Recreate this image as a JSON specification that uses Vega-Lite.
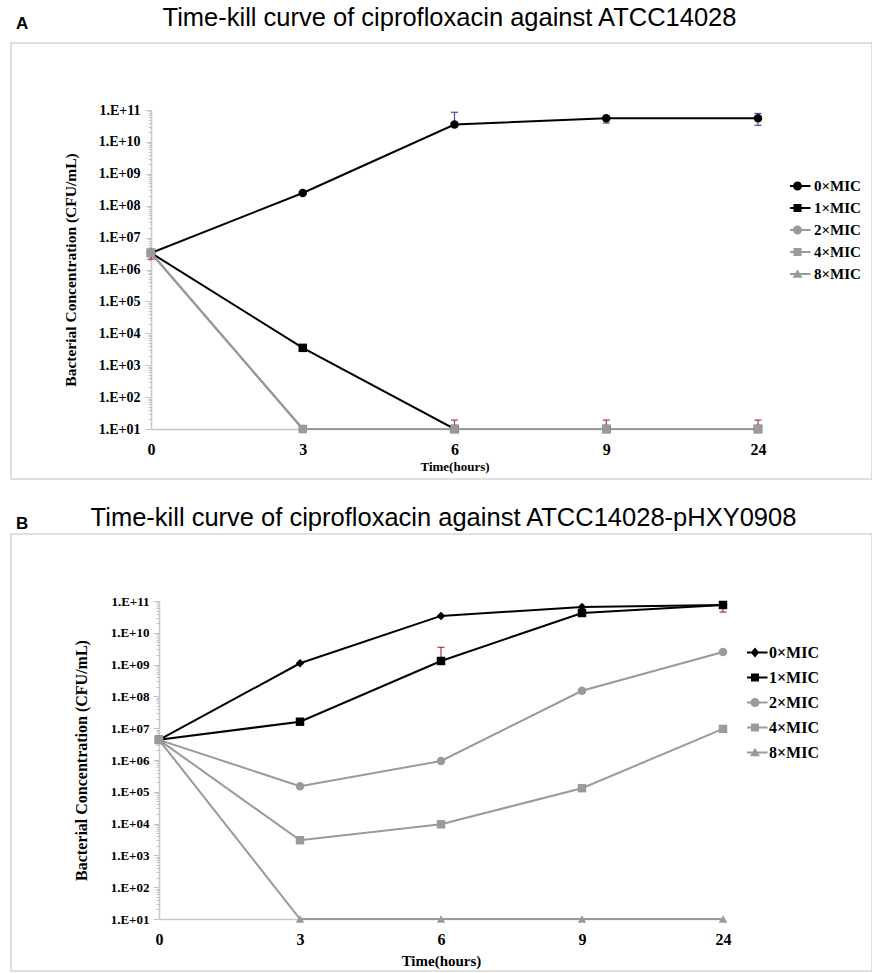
{
  "$schema": "https://vega.github.io/schema/vega-lite/v6.json",
  "padding": {"left": 10, "top": 4, "right": 0, "bottom": 0},
  "background": "white",
  "spacing": 24,
  "config": {"axis": {"grid": false}, "view": {"stroke": null}},
  "resolve": {"scale": {"color": "independent", "fill": "independent", "shape": "independent", "stroke": "independent"}},
  "datasets": {
    "a": [
      {"time": "0", "series": "0×MIC", "cfu": 3300000},
      {"time": "3", "series": "0×MIC", "cfu": 250000000},
      {"time": "6", "series": "0×MIC", "cfu": 35000000000},
      {"time": "9", "series": "0×MIC", "cfu": 55000000000},
      {"time": "24", "series": "0×MIC", "cfu": 55000000000},
      {"time": "0", "series": "1×MIC", "cfu": 3300000},
      {"time": "3", "series": "1×MIC", "cfu": 3500},
      {"time": "6", "series": "1×MIC", "cfu": 10},
      {"time": "9", "series": "1×MIC", "cfu": 10},
      {"time": "24", "series": "1×MIC", "cfu": 10},
      {"time": "0", "series": "2×MIC", "cfu": 3300000},
      {"time": "3", "series": "2×MIC", "cfu": 10},
      {"time": "6", "series": "2×MIC", "cfu": 10},
      {"time": "9", "series": "2×MIC", "cfu": 10},
      {"time": "24", "series": "2×MIC", "cfu": 10},
      {"time": "0", "series": "8×MIC", "cfu": 3300000},
      {"time": "3", "series": "8×MIC", "cfu": 10},
      {"time": "6", "series": "8×MIC", "cfu": 10},
      {"time": "9", "series": "8×MIC", "cfu": 10},
      {"time": "24", "series": "8×MIC", "cfu": 10},
      {"time": "0", "series": "4×MIC", "cfu": 3300000},
      {"time": "3", "series": "4×MIC", "cfu": 10},
      {"time": "6", "series": "4×MIC", "cfu": 10},
      {"time": "9", "series": "4×MIC", "cfu": 10},
      {"time": "24", "series": "4×MIC", "cfu": 10}
    ],
    "aerr": [
      {"time": "0", "series": "4×MIC", "lo": 2100000, "hi": 3300000},
      {"time": "6", "series": "0×MIC", "lo": 35000000000, "hi": 85000000000},
      {"time": "9", "series": "0×MIC", "lo": 39000000000, "hi": 55000000000},
      {"time": "24", "series": "0×MIC", "lo": 33000000000, "hi": 78000000000},
      {"time": "6", "series": "4×MIC", "lo": 10, "hi": 19},
      {"time": "9", "series": "4×MIC", "lo": 10, "hi": 19},
      {"time": "24", "series": "4×MIC", "lo": 10, "hi": 19}
    ],
    "b": [
      {"time": "0", "series": "0×MIC", "cfu": 4300000},
      {"time": "3", "series": "0×MIC", "cfu": 1100000000},
      {"time": "6", "series": "0×MIC", "cfu": 34000000000},
      {"time": "9", "series": "0×MIC", "cfu": 65000000000},
      {"time": "24", "series": "0×MIC", "cfu": 75000000000},
      {"time": "0", "series": "1×MIC", "cfu": 4300000},
      {"time": "3", "series": "1×MIC", "cfu": 16000000},
      {"time": "6", "series": "1×MIC", "cfu": 1300000000},
      {"time": "9", "series": "1×MIC", "cfu": 42000000000},
      {"time": "24", "series": "1×MIC", "cfu": 75000000000},
      {"time": "0", "series": "2×MIC", "cfu": 4300000},
      {"time": "3", "series": "2×MIC", "cfu": 150000},
      {"time": "6", "series": "2×MIC", "cfu": 930000},
      {"time": "9", "series": "2×MIC", "cfu": 150000000},
      {"time": "24", "series": "2×MIC", "cfu": 2500000000},
      {"time": "0", "series": "4×MIC", "cfu": 4300000},
      {"time": "3", "series": "4×MIC", "cfu": 3000},
      {"time": "6", "series": "4×MIC", "cfu": 9500},
      {"time": "9", "series": "4×MIC", "cfu": 130000},
      {"time": "24", "series": "4×MIC", "cfu": 9500000},
      {"time": "0", "series": "8×MIC", "cfu": 4300000},
      {"time": "3", "series": "8×MIC", "cfu": 10},
      {"time": "6", "series": "8×MIC", "cfu": 10},
      {"time": "9", "series": "8×MIC", "cfu": 10},
      {"time": "24", "series": "8×MIC", "cfu": 10}
    ],
    "berr": [
      {"time": "6", "series": "1×MIC", "lo": 1300000000, "hi": 3500000000},
      {"time": "24", "series": "1×MIC", "lo": 45000000000, "hi": 75000000000},
      {"time": "24", "series": "0×MIC", "lo": 75000000000, "hi": 90000000000}
    ]
  },
  "vconcat": [
    {
      "title": {"text": "A", "anchor": "start", "frame": "group", "font": "Liberation Sans", "fontSize": 17, "fontWeight": "bold", "color": "#000", "offset": 0, "dx": 5, "dy": 28},
      "vconcat": [
        {
          "width": 861,
          "height": 436,
          "view": {"stroke": "#d6d6d6", "strokeWidth": 1.5},
          "title": {"text": "Time-kill curve of ciprofloxacin against ATCC14028", "anchor": "middle", "font": "Liberation Sans", "fontSize": 25.5, "fontWeight": "normal", "color": "#000", "offset": 12, "dx": 8},
          "resolve": {"scale": {"shape": "independent", "fill": "independent"}},
          "encoding": {
            "x": {"field": "time", "type": "ordinal", "sort": ["0", "3", "6", "9", "24"],
              "scale": {"type": "point", "padding": 0, "range": [140, 747]},
              "axis": {"title": "Time(hours)", "offset": -50, "labelAngle": 0, "ticks": false, "domainColor": "#c8c8c8", "domainWidth": 1.5,
                "labelFont": "Liberation Serif", "labelFontWeight": "bold", "labelFontSize": 16, "labelColor": "#000", "labelPadding": 12,
                "titleFont": "Liberation Serif", "titleFontWeight": "bold", "titleFontSize": 13, "titleColor": "#000", "titlePadding": 3}},
            "y": {"field": "cfu", "type": "quantitative",
              "scale": {"type": "log", "domain": [10, 100000000000], "range": [386, 67], "nice": false},
              "axis": {"title": "Bacterial Concentration (CFU/mL)", "offset": -140,
                "values": [10,20,30,40,50,60,70,80,90,100,200,300,400,500,600,700,800,900,1000,2000,3000,4000,5000,6000,7000,8000,9000,1e4,2e4,3e4,4e4,5e4,6e4,7e4,8e4,9e4,1e5,2e5,3e5,4e5,5e5,6e5,7e5,8e5,9e5,1e6,2e6,3e6,4e6,5e6,6e6,7e6,8e6,9e6,1e7,2e7,3e7,4e7,5e7,6e7,7e7,8e7,9e7,1e8,2e8,3e8,4e8,5e8,6e8,7e8,8e8,9e8,1e9,2e9,3e9,4e9,5e9,6e9,7e9,8e9,9e9,1e10,2e10,3e10,4e10,5e10,6e10,7e10,8e10,9e10,1e11],
                "labelExpr": "abs(log(datum.value)/LN10 - round(log(datum.value)/LN10)) < 0.001 ? '1.E+' + (round(log(datum.value)/LN10) < 10 ? '0' : '') + round(log(datum.value)/LN10) : ''",
                "labelOverlap": false, "labelFlush": false,
                "tickSize": {"condition": {"test": "abs(log(datum.value)/LN10 - round(log(datum.value)/LN10)) < 0.001", "value": 6}, "value": 3},
                "tickColor": "#c4c4c4", "tickWidth": 1, "domainColor": "#c8c8c8", "domainWidth": 1.5,
                "labelFont": "Liberation Serif", "labelFontWeight": "bold", "labelFontSize": 14, "labelColor": "#000", "labelPadding": 5,
                "titleFont": "Liberation Serif", "titleFontWeight": "bold", "titleFontSize": 15.5, "titleColor": "#000", "titlePadding": 20}}
          },
          "layer": [
            {
              "data": {"name": "a"},
              "mark": {"type": "line", "strokeWidth": 2},
              "encoding": {
                "color": {"field": "series", "type": "nominal",
                  "scale": {"domain": ["0×MIC", "1×MIC", "2×MIC", "4×MIC", "8×MIC"], "range": ["#000000", "#000000", "#9a9a9a", "#9a9a9a", "#9a9a9a"]},
                  "legend": null},
                "detail": {"field": "series", "type": "nominal"}
              }
            },
            {
              "data": {"name": "aerr"},
              "mark": {"type": "rule", "strokeWidth": 1.2},
              "encoding": {
                "y": {"field": "lo", "type": "quantitative"},
                "y2": {"field": "hi"},
                "stroke": {"field": "series", "type": "nominal", "scale": {"domain": ["0×MIC", "1×MIC", "2×MIC", "4×MIC", "8×MIC"], "range": ["#4a4aa8", "#a83a3a", "#a83a3a", "#a83a3a", "#a83a3a"]}, "legend": null}
              }
            },
            {
              "data": {"name": "aerr"},
              "mark": {"type": "point", "shape": "stroke", "size": 49, "strokeWidth": 1.2, "opacity": 1},
              "encoding": {
                "y": {"field": "hi", "type": "quantitative"},
                "stroke": {"field": "series", "type": "nominal", "legend": null}
              }
            },
            {
              "data": {"name": "aerr"},
              "mark": {"type": "point", "shape": "stroke", "size": 49, "strokeWidth": 1.2, "opacity": 1},
              "encoding": {
                "y": {"field": "lo", "type": "quantitative"},
                "stroke": {"field": "series", "type": "nominal", "legend": null}
              }
            },
            {
              "data": {"name": "a"},
              "mark": {"type": "point", "filled": true, "size": 72, "opacity": 1},
              "encoding": {
                "color": {"field": "series", "type": "nominal", "legend": null},
                "shape": {"field": "series", "type": "nominal",
                  "scale": {"domain": ["0×MIC", "1×MIC", "2×MIC", "4×MIC", "8×MIC"], "range": ["circle", "square", "circle", "square", "triangle-up"]},
                  "legend": null}
              }
            },
            {
              "data": {"name": "a"},
              "mark": {"type": "point", "filled": true, "opacity": 0},
              "encoding": {
                "fill": {"field": "series", "type": "nominal",
                  "scale": {"domain": ["0×MIC", "1×MIC", "2×MIC", "4×MIC", "8×MIC"], "range": ["#000000", "#000000", "#9a9a9a", "#9a9a9a", "#9a9a9a"]},
                  "legend": {"orient": "none", "legendX": 779, "legendY": 132, "title": null, "padding": 0, "symbolSize": 100, "symbolStrokeWidth": 0, "symbolOpacity": 1, "clipHeight": 22, "rowPadding": 0,
                    "labelFont": "Liberation Serif", "labelFontWeight": "bold", "labelFontSize": 15, "labelColor": "#000", "labelOffset": 9}},
                "shape": {"field": "series", "type": "nominal",
                  "scale": {"domain": ["0×MIC", "1×MIC", "2×MIC", "4×MIC", "8×MIC"], "range": [
                    "M-2.6,-0.2H2.6V0.2H-2.6ZM0.9,0A0.9,0.9,0,1,1,-0.9,0A0.9,0.9,0,1,1,0.9,0Z",
                    "M-2.6,-0.2H2.6V0.2H-2.6ZM-0.8,-0.8H0.8V0.8H-0.8Z",
                    "M-2.6,-0.2H2.6V0.2H-2.6ZM0.9,0A0.9,0.9,0,1,1,-0.9,0A0.9,0.9,0,1,1,0.9,0Z",
                    "M-2.6,-0.2H2.6V0.2H-2.6ZM-0.8,-0.8H0.8V0.8H-0.8Z",
                    "M-2.6,-0.2H2.6V0.2H-2.6ZM0,-0.95L1,0.75H-1Z"]},
                  "legend": {"orient": "none", "legendX": 779, "legendY": 132, "title": null, "padding": 0, "symbolSize": 100, "symbolStrokeWidth": 0, "symbolOpacity": 1, "clipHeight": 22, "rowPadding": 0,
                    "labelFont": "Liberation Serif", "labelFontWeight": "bold", "labelFontSize": 15, "labelColor": "#000", "labelOffset": 9}}
              }
            }
          ]
        }
      ]
    },
    {
      "title": {"text": "B", "anchor": "start", "frame": "group", "font": "Liberation Sans", "fontSize": 17, "fontWeight": "bold", "color": "#000", "offset": 0, "dx": 5, "dy": 28},
      "vconcat": [
        {
          "width": 861,
          "height": 437,
          "view": {"stroke": "#d6d6d6", "strokeWidth": 1.5},
          "title": {"text": "Time-kill curve of ciprofloxacin against ATCC14028-pHXY0908", "anchor": "middle", "font": "Liberation Sans", "fontSize": 25.5, "fontWeight": "normal", "color": "#000", "offset": 3, "dx": 2},
          "resolve": {"scale": {"shape": "independent", "fill": "independent"}},
          "encoding": {
            "x": {"field": "time", "type": "ordinal", "sort": ["0", "3", "6", "9", "24"],
              "scale": {"type": "point", "padding": 0, "range": [148, 712]},
              "axis": {"title": "Time(hours)", "offset": -52, "labelAngle": 0, "ticks": false, "domainColor": "#c8c8c8", "domainWidth": 1.5,
                "labelFont": "Liberation Serif", "labelFontWeight": "bold", "labelFontSize": 16, "labelColor": "#000", "labelPadding": 12,
                "titleFont": "Liberation Serif", "titleFontWeight": "bold", "titleFontSize": 15, "titleColor": "#000", "titlePadding": 6}},
            "y": {"field": "cfu", "type": "quantitative",
              "scale": {"type": "log", "domain": [10, 100000000000], "range": [385, 67], "nice": false},
              "axis": {"title": "Bacterial Concentration (CFU/mL)", "offset": -148,
                "values": [10,20,30,40,50,60,70,80,90,100,200,300,400,500,600,700,800,900,1000,2000,3000,4000,5000,6000,7000,8000,9000,1e4,2e4,3e4,4e4,5e4,6e4,7e4,8e4,9e4,1e5,2e5,3e5,4e5,5e5,6e5,7e5,8e5,9e5,1e6,2e6,3e6,4e6,5e6,6e6,7e6,8e6,9e6,1e7,2e7,3e7,4e7,5e7,6e7,7e7,8e7,9e7,1e8,2e8,3e8,4e8,5e8,6e8,7e8,8e8,9e8,1e9,2e9,3e9,4e9,5e9,6e9,7e9,8e9,9e9,1e10,2e10,3e10,4e10,5e10,6e10,7e10,8e10,9e10,1e11],
                "labelExpr": "abs(log(datum.value)/LN10 - round(log(datum.value)/LN10)) < 0.001 ? '1.E+' + (round(log(datum.value)/LN10) < 10 ? '0' : '') + round(log(datum.value)/LN10) : ''",
                "labelOverlap": false, "labelFlush": false,
                "tickSize": {"condition": {"test": "abs(log(datum.value)/LN10 - round(log(datum.value)/LN10)) < 0.001", "value": 6}, "value": 3},
                "tickColor": "#c4c4c4", "tickWidth": 1, "domainColor": "#c8c8c8", "domainWidth": 1.5,
                "labelFont": "Liberation Serif", "labelFontWeight": "bold", "labelFontSize": 13, "labelColor": "#000", "labelPadding": 4,
                "titleFont": "Liberation Serif", "titleFontWeight": "bold", "titleFontSize": 16, "titleColor": "#000", "titlePadding": 21}}
          },
          "layer": [
            {
              "data": {"name": "b"},
              "mark": {"type": "line", "strokeWidth": 2},
              "encoding": {
                "color": {"field": "series", "type": "nominal",
                  "scale": {"domain": ["0×MIC", "1×MIC", "2×MIC", "4×MIC", "8×MIC"], "range": ["#000000", "#000000", "#9a9a9a", "#9a9a9a", "#9a9a9a"]},
                  "legend": null},
                "detail": {"field": "series", "type": "nominal"}
              }
            },
            {
              "data": {"name": "berr"},
              "mark": {"type": "rule", "strokeWidth": 1.2},
              "encoding": {
                "y": {"field": "lo", "type": "quantitative"},
                "y2": {"field": "hi"},
                "stroke": {"field": "series", "type": "nominal", "scale": {"domain": ["0×MIC", "1×MIC", "2×MIC", "4×MIC", "8×MIC"], "range": ["#4a4aa8", "#a83a3a", "#a83a3a", "#a83a3a", "#a83a3a"]}, "legend": null}
              }
            },
            {
              "data": {"name": "berr"},
              "mark": {"type": "point", "shape": "stroke", "size": 49, "strokeWidth": 1.2, "opacity": 1},
              "encoding": {
                "y": {"field": "hi", "type": "quantitative"},
                "stroke": {"field": "series", "type": "nominal", "legend": null}
              }
            },
            {
              "data": {"name": "berr"},
              "mark": {"type": "point", "shape": "stroke", "size": 49, "strokeWidth": 1.2, "opacity": 1},
              "encoding": {
                "y": {"field": "lo", "type": "quantitative"},
                "stroke": {"field": "series", "type": "nominal", "legend": null}
              }
            },
            {
              "data": {"name": "b"},
              "mark": {"type": "point", "filled": true, "size": 72, "opacity": 1},
              "encoding": {
                "color": {"field": "series", "type": "nominal", "legend": null},
                "shape": {"field": "series", "type": "nominal",
                  "scale": {"domain": ["0×MIC", "1×MIC", "2×MIC", "4×MIC", "8×MIC"], "range": ["diamond", "square", "circle", "square", "triangle-up"]},
                  "legend": null}
              }
            },
            {
              "data": {"name": "b"},
              "mark": {"type": "point", "filled": true, "opacity": 0},
              "encoding": {
                "fill": {"field": "series", "type": "nominal",
                  "scale": {"domain": ["0×MIC", "1×MIC", "2×MIC", "4×MIC", "8×MIC"], "range": ["#000000", "#000000", "#9a9a9a", "#9a9a9a", "#9a9a9a"]},
                  "legend": {"orient": "none", "legendX": 736, "legendY": 106, "title": null, "padding": 0, "symbolSize": 100, "symbolStrokeWidth": 0, "symbolOpacity": 1, "clipHeight": 25, "rowPadding": 0,
                    "labelFont": "Liberation Serif", "labelFontWeight": "bold", "labelFontSize": 16, "labelColor": "#000", "labelOffset": 6}},
                "shape": {"field": "series", "type": "nominal",
                  "scale": {"domain": ["0×MIC", "1×MIC", "2×MIC", "4×MIC", "8×MIC"], "range": [
                    "M-2.5,-0.2H2.5V0.2H-2.5ZM0,-1L0.85,0L0,1L-0.85,0Z",
                    "M-2.5,-0.2H2.5V0.2H-2.5ZM-0.8,-0.8H0.8V0.8H-0.8Z",
                    "M-2.5,-0.2H2.5V0.2H-2.5ZM0.9,0A0.9,0.9,0,1,1,-0.9,0A0.9,0.9,0,1,1,0.9,0Z",
                    "M-2.5,-0.2H2.5V0.2H-2.5ZM-0.8,-0.8H0.8V0.8H-0.8Z",
                    "M-2.5,-0.2H2.5V0.2H-2.5ZM0,-0.95L1,0.75H-1Z"]},
                  "legend": {"orient": "none", "legendX": 736, "legendY": 106, "title": null, "padding": 0, "symbolSize": 100, "symbolStrokeWidth": 0, "symbolOpacity": 1, "clipHeight": 25, "rowPadding": 0,
                    "labelFont": "Liberation Serif", "labelFontWeight": "bold", "labelFontSize": 16, "labelColor": "#000", "labelOffset": 6}}
              }
            }
          ]
        }
      ]
    }
  ]
}
